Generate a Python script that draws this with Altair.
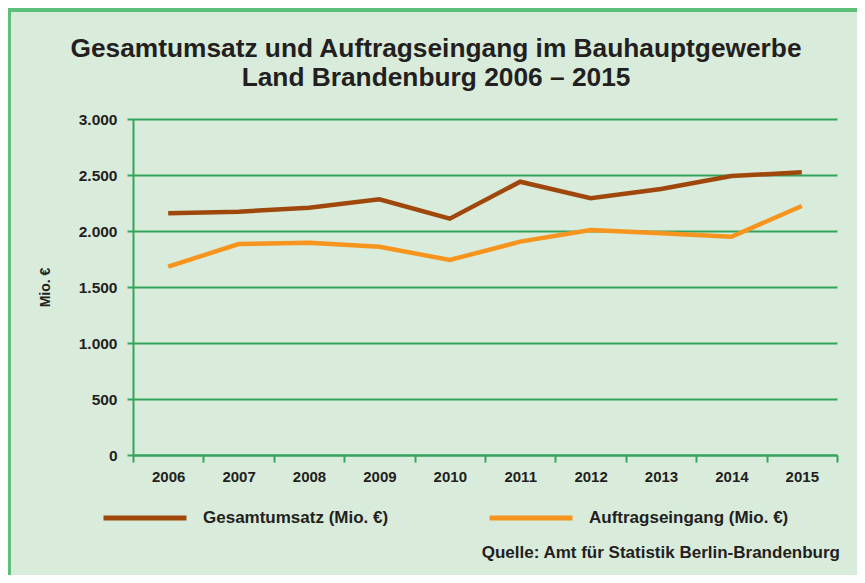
import altair as alt
import pandas as pd

years = ["2006", "2007", "2008", "2009", "2010", "2011", "2012", "2013", "2014", "2015"]
gesamtumsatz = [2158, 2172, 2208, 2283, 2110, 2440, 2292, 2375, 2491, 2524]
auftragseingang = [1681, 1884, 1896, 1860, 1741, 1905, 2009, 1979, 1949, 2223]
series_names = ["Gesamtumsatz (Mio. €)", "Auftragseingang (Mio. €)"]
series_colors = ["#a0480c", "#f7941d"]
y_ticks = [0, 500, 1000, 1500, 2000, 2500, 3000]
title_lines = ["Gesamtumsatz und Auftragseingang im Bauhauptgewerbe", "Land Brandenburg 2006 – 2015"]
source_text = "Quelle: Amt für Statistik Berlin-Brandenburg"

rows = []
for i, y in enumerate(years):
    rows.append({"Jahr": y, "Reihe": series_names[0], "Wert": gesamtumsatz[i]})
    rows.append({"Jahr": y, "Reihe": series_names[1], "Wert": auftragseingang[i]})
df = pd.DataFrame(rows)

TEXT = "#231f20"
GREEN = "#34a35c"
BG = "#d9ebdb"
BORDER = "#5dbf7a"
FONT = "Liberation Sans"
W, H = 704, 336

base = alt.Chart(df)

border = base.mark_rect(fill=None, stroke=BORDER, strokeWidth=3).encode(
    x=alt.value(-124), x2=alt.value(W + 60), y=alt.value(-109), y2=alt.value(H + 140)
)

lines = base.mark_line(strokeWidth=4.5, strokeCap="butt").encode(
    x=alt.X("Jahr:O", sort=years, scale=alt.Scale(paddingInner=0, paddingOuter=0),
            axis=alt.Axis(title=None, labelAngle=0, labelFontSize=15, labelFontWeight="bold",
                          labelColor=TEXT, labelFont=FONT, labelPadding=7,
                          tickBand="extent", tickColor=GREEN, tickSize=7, tickWidth=2,
                          domainColor=GREEN, domainWidth=2, grid=False)),
    y=alt.Y("Wert:Q", scale=alt.Scale(domain=[0, 3000], nice=False),
            axis=alt.Axis(values=y_ticks, title="Mio. €", titleFontSize=14, titleFontWeight="bold",
                          titleColor=TEXT, titleFont=FONT, titleAngle=-90,
                          titleX=-88, titleY=H / 2, titleAlign="center", titleBaseline="middle",
                          labelExpr="replace(format(datum.value, ','), ',', '.')",
                          labelFontSize=15.5, labelFontWeight="bold", labelColor=TEXT,
                          labelFont=FONT, labelPadding=10,
                          tickColor=GREEN, tickSize=6, tickWidth=2,
                          domainColor=GREEN, domainWidth=2,
                          grid=True, gridColor=GREEN, gridWidth=2)),
    color=alt.Color("Reihe:N", sort=series_names,
                    scale=alt.Scale(domain=series_names, range=series_colors),
                    legend=alt.Legend(title=None, orient="none", legendX=-32, legendY=H + 19,
                                      direction="horizontal", columns=2,
                                      symbolType="stroke", symbolSize=83 * 83, symbolStrokeWidth=5,
                                      labelFontSize=17, labelFontWeight="bold", labelColor=TEXT,
                                      labelFont=FONT, labelOffset=14,
                                      columnPadding=90, labelLimit=400)),
)

title1 = alt.Chart(pd.DataFrame({"t": [title_lines[0]]})).mark_text(
    align="center", baseline="alphabetic", fontSize=26.3, fontWeight="bold", color=TEXT, font=FONT
).encode(text="t:N", x=alt.value(303), y=alt.value(-62))

title2 = alt.Chart(pd.DataFrame({"t": [title_lines[1]]})).mark_text(
    align="center", baseline="alphabetic", fontSize=26.3, fontWeight="bold", color=TEXT, font=FONT
).encode(text="t:N", x=alt.value(303), y=alt.value(-33))

source = alt.Chart(pd.DataFrame({"t": [source_text]})).mark_text(
    align="right", baseline="middle", fontSize=17, fontWeight="bold", color=TEXT, font=FONT
).encode(text="t:N", x=alt.value(W + 3), y=alt.value(H + 98))

chart = alt.layer(border, lines, title1, title2, source).properties(
    width=W, height=H,
    autosize=alt.AutoSizeParams(type="none"),
    padding={"left": 125, "top": 111, "right": 20, "bottom": 120},
    background=BG,
).configure_view(stroke=None, fill=BG)

chart.save("out.html", embed_options={"renderer": "svg", "actions": False})
